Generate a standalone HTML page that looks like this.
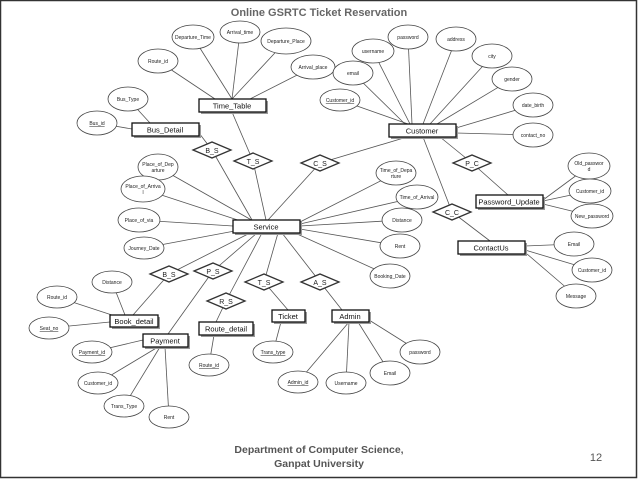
<!DOCTYPE html>
<html><head><meta charset="utf-8"><style>
html,body{margin:0;padding:0;background:#fff;}
svg{display:block;}
text{font-family:"Liberation Sans",sans-serif;}
.a{font-size:5px;fill:#222;text-anchor:middle;}
.e{font-size:7.5px;fill:#111;text-anchor:middle;}
.r{font-size:7px;fill:#222;text-anchor:middle;}
</style></head><body>
<svg width="638" height="479" viewBox="0 0 638 479" xmlns="http://www.w3.org/2000/svg">
<rect x="0.5" y="0.5" width="636" height="477" fill="#fff" stroke="#333" stroke-width="1.5"/>
<text x="319" y="16" font-size="11" font-weight="bold" fill="#666" text-anchor="middle">Online GSRTC Ticket Reservation</text>
<g stroke="#555" stroke-width="0.8" fill="none">
<line x1="232" y1="99" x2="193" y2="37"/><line x1="232" y1="99" x2="240" y2="32"/><line x1="232" y1="99" x2="286" y2="41"/>
<line x1="215" y1="99" x2="158" y2="61"/><line x1="250" y1="99" x2="313" y2="67"/>
<line x1="150" y1="123" x2="128" y2="99"/><line x1="132" y1="129" x2="97" y2="123"/>
<line x1="199" y1="133" x2="212" y2="150"/><line x1="212" y1="150" x2="252" y2="220"/>
<line x1="232" y1="112" x2="253" y2="161"/><line x1="253" y1="161" x2="266" y2="220"/>
<line x1="407" y1="137" x2="320" y2="163"/><line x1="320" y1="163" x2="268" y2="220"/>
<line x1="255" y1="222" x2="158" y2="167"/><line x1="250" y1="224" x2="143" y2="189"/>
<line x1="233" y1="226" x2="139" y2="220"/><line x1="240" y1="230" x2="144" y2="248"/>
<line x1="300" y1="222" x2="396" y2="173"/><line x1="300" y1="224" x2="417" y2="197"/>
<line x1="300" y1="226" x2="402" y2="220"/><line x1="300" y1="229" x2="400" y2="246"/>
<line x1="295" y1="233" x2="390" y2="276"/>
<line x1="250" y1="233" x2="169" y2="274"/><line x1="169" y1="274" x2="133" y2="315"/>
<line x1="257" y1="233" x2="213" y2="271"/><line x1="213" y1="271" x2="168" y2="334"/>
<line x1="262" y1="233" x2="226" y2="301"/><line x1="226" y1="301" x2="216" y2="322"/>
<line x1="278" y1="233" x2="264" y2="282"/><line x1="264" y1="282" x2="288" y2="310"/>
<line x1="282" y1="233" x2="320" y2="282"/><line x1="320" y1="282" x2="342" y2="310"/>
<line x1="410" y1="124" x2="373" y2="51"/><line x1="412" y1="124" x2="408" y2="37"/>
<line x1="423" y1="124" x2="456" y2="39"/><line x1="430" y1="124" x2="492" y2="56"/>
<line x1="437" y1="124" x2="512" y2="79"/><line x1="456" y1="128" x2="533" y2="105"/>
<line x1="456" y1="133" x2="533" y2="135"/><line x1="405" y1="124" x2="353" y2="73"/>
<line x1="408" y1="124" x2="340" y2="100"/>
<line x1="440" y1="137" x2="472" y2="163"/><line x1="472" y1="163" x2="508" y2="195"/>
<line x1="423" y1="137" x2="452" y2="212"/><line x1="452" y1="212" x2="490" y2="241"/>
<line x1="543" y1="200" x2="589" y2="166"/><line x1="543" y1="201" x2="590" y2="191"/><line x1="543" y1="204" x2="592" y2="216"/>
<line x1="525" y1="246" x2="574" y2="244"/><line x1="525" y1="250" x2="592" y2="270"/><line x1="527" y1="254" x2="576" y2="296"/>
<line x1="125" y1="315" x2="112" y2="282"/><line x1="118" y1="317" x2="57" y2="297"/><line x1="110" y1="322" x2="49" y2="328"/>
<line x1="143" y1="340" x2="92" y2="352"/><line x1="158" y1="347" x2="98" y2="383"/><line x1="160" y1="347" x2="124" y2="406"/><line x1="165" y1="347" x2="169" y2="417"/>
<line x1="214" y1="335" x2="209" y2="365"/>
<line x1="281" y1="322" x2="273" y2="352"/>
<line x1="349" y1="322" x2="298" y2="382"/><line x1="349" y1="322" x2="346" y2="383"/><line x1="358" y1="322" x2="390" y2="373"/><line x1="369" y1="320" x2="420" y2="352"/>
</g>
<g fill="#fff" stroke="#444" stroke-width="0.8">
<ellipse cx="193" cy="37" rx="21" ry="12"/><ellipse cx="240" cy="32" rx="20" ry="11"/><ellipse cx="286" cy="41" rx="25" ry="13"/>
<ellipse cx="158" cy="61" rx="20" ry="12"/><ellipse cx="313" cy="67" rx="22" ry="12"/>
<ellipse cx="128" cy="99" rx="20" ry="12"/><ellipse cx="97" cy="123" rx="20" ry="12"/>
<ellipse cx="158" cy="167" rx="20" ry="13"/><ellipse cx="143" cy="189" rx="22" ry="13"/><ellipse cx="139" cy="220" rx="21" ry="12"/><ellipse cx="144" cy="248" rx="20" ry="11"/>
<ellipse cx="373" cy="51" rx="21" ry="12"/><ellipse cx="408" cy="37" rx="20" ry="12"/><ellipse cx="456" cy="39" rx="20" ry="12"/>
<ellipse cx="492" cy="56" rx="20" ry="12"/><ellipse cx="512" cy="79" rx="20" ry="12"/><ellipse cx="533" cy="105" rx="20" ry="12"/><ellipse cx="533" cy="135" rx="20" ry="12"/>
<ellipse cx="353" cy="73" rx="20" ry="12"/><ellipse cx="340" cy="100" rx="20" ry="11"/>
<ellipse cx="396" cy="173" rx="20" ry="12"/><ellipse cx="417" cy="197" rx="21" ry="12"/><ellipse cx="402" cy="220" rx="20" ry="12"/><ellipse cx="400" cy="246" rx="20" ry="12"/><ellipse cx="390" cy="276" rx="20" ry="12"/>
<ellipse cx="589" cy="166" rx="21" ry="13"/><ellipse cx="590" cy="191" rx="21" ry="12"/><ellipse cx="592" cy="216" rx="21" ry="12"/>
<ellipse cx="574" cy="244" rx="20" ry="12"/><ellipse cx="592" cy="270" rx="20" ry="12"/><ellipse cx="576" cy="296" rx="20" ry="12"/>
<ellipse cx="112" cy="282" rx="20" ry="11"/><ellipse cx="57" cy="297" rx="20" ry="11"/><ellipse cx="49" cy="328" rx="20" ry="11"/>
<ellipse cx="92" cy="352" rx="20" ry="11"/><ellipse cx="98" cy="383" rx="20" ry="11"/><ellipse cx="124" cy="406" rx="20" ry="11"/><ellipse cx="169" cy="417" rx="20" ry="11"/>
<ellipse cx="209" cy="365" rx="20" ry="11"/><ellipse cx="273" cy="352" rx="20" ry="11"/>
<ellipse cx="298" cy="382" rx="20" ry="11"/><ellipse cx="346" cy="383" rx="20" ry="11"/><ellipse cx="390" cy="373" rx="20" ry="12"/><ellipse cx="420" cy="352" rx="20" ry="12"/>
</g>
<g class="a">
<text x="193" y="39">Departure_Time</text><text x="240" y="34">Arrival_time</text><text x="286" y="43">Departure_Place</text>
<text x="158" y="63">Route_id</text><text x="313" y="69">Arrival_place</text>
<text x="128" y="101">Bus_Type</text><text x="97" y="125" text-decoration="underline">Bus_id</text>
<text x="158" y="166">Place_of_Dep</text><text x="158" y="172">arture</text>
<text x="143" y="188">Place_of_Arriva</text><text x="143" y="194">l</text>
<text x="139" y="222">Place_of_via</text><text x="144" y="250">Journey_Date</text>
<text x="373" y="53">username</text><text x="408" y="39">password</text><text x="456" y="41">address</text>
<text x="492" y="58">city</text><text x="512" y="81">gender</text><text x="533" y="107">date_birth</text><text x="533" y="137">contact_no</text>
<text x="353" y="75">email</text><text x="340" y="102" text-decoration="underline">Customer_id</text>
<text x="396" y="172">Time_of_Depa</text><text x="396" y="178">rture</text>
<text x="417" y="199">Time_of_Arrival</text><text x="402" y="222">Distance</text><text x="400" y="248">Rent</text><text x="390" y="278">Booking_Date</text>
<text x="589" y="165">Old_passwor</text><text x="589" y="171">d</text><text x="590" y="193">Customer_id</text><text x="592" y="218">New_password</text>
<text x="574" y="246">Email</text><text x="592" y="272">Customer_id</text><text x="576" y="298">Message</text>
<text x="112" y="284">Distance</text><text x="57" y="299">Route_id</text><text x="49" y="330" text-decoration="underline">Seat_no</text>
<text x="92" y="354" text-decoration="underline">Payment_id</text><text x="98" y="385">Customer_id</text><text x="124" y="408">Trans_Type</text><text x="169" y="419">Rent</text>
<text x="209" y="367" text-decoration="underline">Route_id</text><text x="273" y="354" text-decoration="underline">Trans_type</text>
<text x="298" y="384" text-decoration="underline">Admin_id</text><text x="346" y="385">Username</text><text x="390" y="375">Email</text><text x="420" y="354">password</text>
</g>
<g fill="#fff" stroke="#333" stroke-width="1.3">
<polygon points="193,150 212,142 231,150 212,158"/><polygon points="234,161 253,153 272,161 253,169"/>
<polygon points="301,163 320,155 339,163 320,171"/><polygon points="453,163 472,155 491,163 472,171"/>
<polygon points="433,212 452,204 471,212 452,220"/>
<polygon points="150,274 169,266 188,274 169,282"/><polygon points="194,271 213,263 232,271 213,279"/>
<polygon points="207,301 226,293 245,301 226,309"/><polygon points="245,282 264,274 283,282 264,290"/>
<polygon points="301,282 320,274 339,282 320,290"/>
</g>
<g class="r">
<text x="212" y="153">B_S</text><text x="253" y="164">T_S</text><text x="320" y="166">C_S</text><text x="472" y="166">P_C</text><text x="452" y="215">C_C</text>
<text x="169" y="277">B_S</text><text x="213" y="274">P_S</text><text x="226" y="304">R_S</text><text x="264" y="285">T_S</text><text x="320" y="285">A_S</text>
</g>
<g fill="#999">
<rect x="201" y="101" width="67" height="13"/><rect x="134" y="125" width="67" height="13"/><rect x="391" y="126" width="67" height="13"/>
<rect x="235" y="222" width="67" height="13"/><rect x="478" y="197" width="67" height="13"/><rect x="460" y="243" width="67" height="13"/>
<rect x="112" y="317" width="48" height="12"/><rect x="145" y="336" width="45" height="13"/><rect x="201" y="324" width="54" height="13"/>
<rect x="274" y="312" width="33" height="12"/><rect x="334" y="312" width="37" height="12"/>
</g>
<g fill="#fff" stroke="#111" stroke-width="1.3">
<rect x="199" y="99" width="67" height="13"/><rect x="132" y="123" width="67" height="13"/><rect x="389" y="124" width="67" height="13"/>
<rect x="233" y="220" width="67" height="13"/><rect x="476" y="195" width="67" height="13"/><rect x="458" y="241" width="67" height="13"/>
<rect x="110" y="315" width="48" height="12"/><rect x="143" y="334" width="45" height="13"/><rect x="199" y="322" width="54" height="13"/>
<rect x="272" y="310" width="33" height="12"/><rect x="332" y="310" width="37" height="12"/>
</g>
<g class="e">
<text x="232" y="108.5">Time_Table</text><text x="165" y="132.5">Bus_Detail</text><text x="422" y="133.5">Customer</text>
<text x="266" y="229.5">Service</text><text x="509" y="204.5">Password_Update</text><text x="491" y="250.5">ContactUs</text>
<text x="134" y="324">Book_detail</text><text x="165" y="343.5">Payment</text><text x="226" y="331.5">Route_detail</text>
<text x="288" y="319">Ticket</text><text x="350" y="319">Admin</text>
</g>
<text x="319" y="453" font-size="10.5" font-weight="bold" fill="#555" text-anchor="middle">Department of Computer Science,</text>
<text x="319" y="467" font-size="10.5" font-weight="bold" fill="#555" text-anchor="middle">Ganpat University</text>
<text x="596" y="461" font-size="11" fill="#555" text-anchor="middle">12</text>
</svg>
</body></html>
